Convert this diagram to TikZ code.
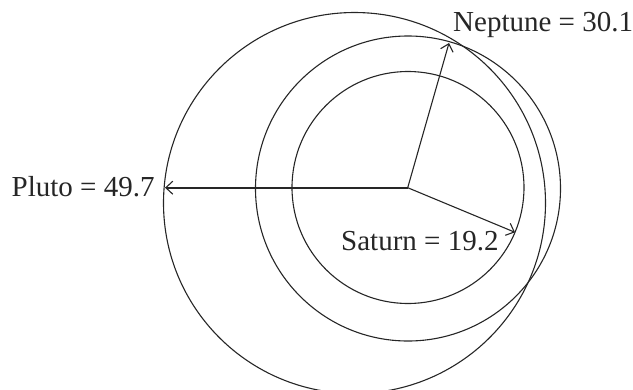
\documentclass[tikz,border=0pt]{standalone}
\usepackage{fontspec}
\setmainfont{Liberation Serif}
\usetikzlibrary{arrows.meta}
\begin{document}
\begin{tikzpicture}[x=1pt,y=-1pt,
  orbit/.style={draw=black!85,line width=1.1pt},
  radius arrow/.style={draw=black!85,line width=1.1pt,-{Straight Barb[length=7pt,width=13pt,line width=1.1pt]}},
  lbl/.style={inner sep=0pt,anchor=base west,font=\fontsize{29}{32}\selectfont,text=black!85}]
\useasboundingbox (0,0) rectangle (633,389);
\clip (0,0) rectangle (633,389);
\coordinate (o) at (407.7,187.7);
\coordinate (plutotip) at (165,187.7);
\coordinate (neptip) at (449,43);
\coordinate (sattip) at (515,232.3);
% orbits
\draw[orbit] (408,187.5) circle[radius=116];
\draw[orbit] (408,188.5) circle[radius=152.5];
\draw[orbit] (354.5,203) ellipse[x radius=191,y radius=190.5];
% radii
\draw[radius arrow,line width=2pt] (o) -- (plutotip);
\draw[radius arrow] (o) -- (neptip);
\draw[radius arrow] (o) -- (sattip);
% labels
\node[lbl] (pluto) at (11.5,196.7) {Pluto = 49.7};
\node[lbl] (nep) at (453,31.7) {Neptune = 30.1};
\node[lbl] (sat) at (341,250) {Saturn = 19.2};
\end{tikzpicture}
\end{document}
